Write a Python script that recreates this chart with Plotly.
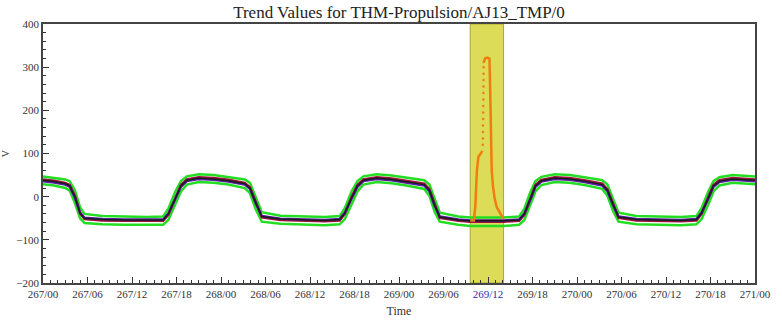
import plotly.graph_objects as go

# time in hours since day 267/00
hours = [0, 1.5, 3, 3.6, 4.3, 5.0, 5.6, 8, 11, 14,
         16.2, 16.9, 17.8, 18.6, 19.4, 21, 23, 25, 27.2, 27.9,
         28.7, 29.5, 32, 35, 38, 40.0, 40.7, 41.6, 42.4, 43.2,
         45, 47, 49, 51.4, 52.1, 52.8, 53.5, 56, 57.6, 62.1,
         64.2, 64.9, 65.7, 66.4, 67.2, 69, 71, 73, 75.4, 76.1,
         76.9, 77.6, 80, 83, 86, 88.1, 88.8, 89.7, 90.4, 91.2,
         93, 96]

green_upper = [47, 44, 40, 36, 15, -25, -40, -45, -46, -47,
               -46, -28, 10, 36, 47, 52, 50, 46, 40, 32,
               0, -36, -44, -46, -47, -45, -26, 12, 36, 47,
               52, 49, 44, 38, 28, -5, -37, -46, -48, -48,
               -46, -28, 10, 36, 46, 52, 50, 45, 38, 28,
               -5, -37, -45, -46, -47, -45, -26, 12, 36, 45,
               50, 47]

green_lower = [29, 26, 20, 14, -15, -50, -61, -64, -65, -66,
               -65, -54, -20, 12, 28, 34, 32, 28, 20, 8,
               -30, -58, -63, -65, -66, -64, -52, -18, 12, 28,
               34, 31, 26, 18, 2, -35, -58, -65, -68, -68,
               -65, -54, -20, 12, 27, 34, 32, 27, 18, 2,
               -35, -58, -64, -65, -66, -64, -52, -18, 12, 26,
               32, 29]

maroon = [40, 37, 32, 27, 2, -39, -52, -55, -56, -57,
          -56, -42, -3, 27, 40, 45, 43, 39, 32, 22,
          -13, -48, -54, -56, -57, -55, -40, -1, 27, 40,
          45, 42, 37, 30, 17, -18, -49, -56, -58, -58,
          -56, -42, -3, 27, 39, 45, 43, 38, 30, 17,
          -18, -49, -55, -56, -57, -55, -40, -1, 27, 38,
          43, 40]

purple = [36, 33, 28, 23, -2, -37, -49, -52, -53, -54,
          -53, -39, -7, 23, 36, 41, 39, 35, 28, 18,
          -16, -45, -51, -53, -54, -52, -37, -5, 23, 36,
          41, 38, 33, 26, 13, -21, -46, -53, -55, -55,
          -53, -39, -7, 23, 35, 41, 39, 34, 26, 13,
          -21, -46, -52, -53, -54, -52, -37, -5, 23, 34,
          39, 36]

black = [38, 35, 30, 25, 0, -38, -50, -53, -54, -55,
         -54, -40, -5, 25, 38, 43, 41, 37, 30, 20,
         -15, -46, -52, -54, -55, -53, -38, -3, 25, 38,
         43, 40, 35, 28, 15, -20, -47, -54, -56, -56,
         -54, -40, -5, 25, 37, 43, 41, 36, 28, 15,
         -20, -47, -53, -54, -55, -53, -38, -3, 25, 36,
         41, 38]

# highlighted event (orange)
event_hours = [57.6, 58.1, 58.3, 58.5, 58.7, 59.0, 59.25, None,
               59.45, 59.6, 59.9, 60.2, 60.35, 60.5, 60.7, 60.9, 61.2, 61.6, 62.1]
event_values = [-55, -55, -20, 60, 92, 100, 106, None,
                312, 320, 322, 320, 200, 60, 20, -5, -25, -38, -52]
jump_hours = [59.3, 59.31, 59.32, 59.33, 59.34, 59.35, 59.36, 59.37, 59.38,
              59.39, 59.40, 59.41, 59.42, 59.43]
jump_values = [120, 135, 150, 165, 180, 195, 210, 225, 240,
               255, 270, 285, 300, 312]

band = [57.6, 62.1]

tick_hours = list(range(0, 97, 6))
tick_labels = ["267/00", "267/06", "267/12", "267/18", "268/00", "268/06",
               "268/12", "268/18", "269/00", "269/06",
               "<span style='color:#2233aa'>269/12</span>", "269/18",
               "270/00", "270/06", "270/12", "270/18", "271/00"]

fig = go.Figure()

series = [
    (green_upper, "#22dd22", 2.5),
    (green_lower, "#22dd22", 2.5),
    (maroon, "#a0103a", 2.5),
    (purple, "#5a1aa8", 2.5),
    (black, "#1a1a1a", 1.5),
]
for vals, col, w in series:
    fig.add_trace(go.Scatter(x=hours, y=vals, mode="lines",
                             line=dict(color=col, width=w), showlegend=False))

fig.add_trace(go.Scatter(x=event_hours, y=event_values, mode="lines",
                         line=dict(color="#f07d10", width=2.5), connectgaps=False,
                         showlegend=False))
fig.add_trace(go.Scatter(x=jump_hours, y=jump_values, mode="markers",
                         marker=dict(color="#f07d10", size=2.5), showlegend=False))

fig.add_shape(type="rect", xref="x", yref="y", x0=band[0], x1=band[1], y0=-200, y1=400,
              fillcolor="rgba(214,214,60,0.85)", line=dict(color="#a8a830", width=1),
              layer="below")

serif = "Liberation Serif"
tickf = dict(family=serif, size=11, color="#333")
fig.update_layout(
    width=782, height=322,
    margin=dict(l=43, r=27, t=24, b=39),
    paper_bgcolor="white", plot_bgcolor="white",
    title=dict(text="Trend Values for THM-Propulsion/AJ13_TMP/0", x=0.5, xanchor="center",
               xref="paper", yref="container", y=1 - 12 / 322, yanchor="middle",
               font=dict(family=serif, size=17, color="#222")),
    font=dict(family=serif, size=11, color="#333"),
    xaxis=dict(range=[0, 96], tickvals=tick_hours, ticktext=tick_labels, tickfont=tickf,
               automargin=False,
               ticks="inside", ticklen=6, tickcolor="#333", showgrid=False, zeroline=False,
               showline=True, linecolor="#444", linewidth=1.5, mirror=True,
               minor=dict(dtick=1, ticks="inside", ticklen=3, tickcolor="#333", showgrid=False),
               title=dict(text="Time", font=dict(family=serif, size=12, color="#333"), standoff=8)),
    yaxis=dict(range=[-200, 400], dtick=100, tickfont=tickf, automargin=False,
               ticks="inside", ticklen=6, tickcolor="#333",
               showgrid=False, zeroline=False,
               showline=True, linecolor="#444", linewidth=1.5, mirror=True,
               minor=dict(dtick=20, ticks="inside", ticklen=3, tickcolor="#333", showgrid=False),
               title=dict(text="V", font=dict(family=serif, size=10, color="#333"), standoff=6)),
)

fig.write_html("out.html", config={"displayModeBar": False},
               post_script="document.body.style.margin='0';")
